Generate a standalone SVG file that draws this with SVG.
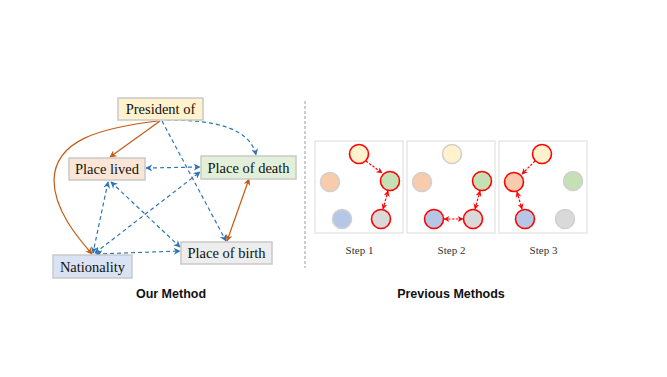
<svg xmlns="http://www.w3.org/2000/svg" width="667" height="377" viewBox="0 0 667 377">
<defs>
<style>
.box{stroke:#c9c9c9;stroke-width:1.5}
.nt{font-family:"Liberation Serif",serif;font-size:14.5px;fill:#111;text-anchor:middle}
.or{fill:none;stroke:#c55a11;stroke-width:1.2}
.bl{fill:none;stroke:#2e75b6;stroke-width:1.2;stroke-dasharray:4,3}
.rd{fill:none;stroke:#ff0000;stroke-width:1.2;stroke-dasharray:2.5,1.5}
.panel{fill:#fff;stroke:#dcdcdc;stroke-width:1}
.on{stroke:#ff0000;stroke-width:1.6}
.off{stroke:#d0d0d0;stroke-width:1.6}
.st{font-family:"Liberation Serif",serif;font-size:11px;fill:#333;text-anchor:middle}
.lb{font-family:"Liberation Sans",Arial,sans-serif;font-size:12.5px;font-weight:bold;fill:#111;text-anchor:middle}
</style>
<marker id="ao" viewBox="0 0 10 10" refX="9" refY="5" markerWidth="7" markerHeight="7" orient="auto-start-reverse" markerUnits="userSpaceOnUse"><path d="M0,0 L10,5 L0,10 L3,5 Z" fill="#c55a11"/></marker>
<marker id="ab" viewBox="0 0 10 10" refX="9" refY="5" markerWidth="7" markerHeight="7" orient="auto-start-reverse" markerUnits="userSpaceOnUse"><path d="M0,0 L10,5 L0,10 L3,5 Z" fill="#2e75b6"/></marker>
<marker id="ar" viewBox="0 0 10 10" refX="9" refY="5" markerWidth="6" markerHeight="6" orient="auto-start-reverse" markerUnits="userSpaceOnUse"><path d="M0,0 L10,5 L0,10 L3,5 Z" fill="#ff0000"/></marker>
</defs>
<rect width="667" height="377" fill="#fff"/>

<g id="connectors">
<path class="or" d="M160,121 L110,157" marker-end="url(#ao)"/>
<path class="or" d="M158,121 C100,128 55,140 54,180 C54,210 78,238 92,254" marker-end="url(#ao)"/>
<path class="or" d="M249,179 L227,241" marker-start="url(#ao)" marker-end="url(#ao)"/>
<path class="bl" d="M162,121 L226,241" marker-end="url(#ab)"/>
<path class="bl" d="M167,120 C215,120 250,128 256,155" marker-end="url(#ab)"/>
<path class="bl" d="M146,168 L200,167" marker-start="url(#ab)" marker-end="url(#ab)"/>
<path class="bl" d="M108,182 L93,253" marker-start="url(#ab)" marker-end="url(#ab)"/>
<path class="bl" d="M111,182 L180,247" marker-start="url(#ab)" marker-end="url(#ab)"/>
<path class="bl" d="M95,253 L200,172" marker-start="url(#ab)" marker-end="url(#ab)"/>
<path class="bl" d="M96,254 L180,251" marker-start="url(#ab)" marker-end="url(#ab)"/>
</g>

<g id="president-of"><rect class="box" x="118" y="98" width="85" height="22" fill="#fff2cc"/><text class="nt" x="160.5" y="114">President of</text></g>
<g id="place-lived"><rect class="box" x="69" y="158" width="76" height="22" fill="#fbe5d6"/><text class="nt" x="107" y="174">Place lived</text></g>
<g id="place-of-death"><rect class="box" x="201" y="156" width="95" height="23" fill="#e2f0d9"/><text class="nt" x="248.5" y="172.5">Place of death</text></g>
<g id="nationality"><rect class="box" x="53" y="255" width="79" height="23" fill="#dae3f3"/><text class="nt" x="92.5" y="271.5">Nationality</text></g>
<g id="place-of-birth"><rect class="box" x="181" y="242" width="91" height="22" fill="#ededed"/><text class="nt" x="226.5" y="258">Place of birth</text></g>

<line x1="305" y1="101" x2="305" y2="268" stroke="#bfbfbf" stroke-width="1.5" stroke-dasharray="3,2"/>

<g id="step1">
<rect class="panel" x="315" y="141" width="88" height="92"/>
<circle class="off" cx="330" cy="182" r="9.5" fill="#f8cbad"/>
<circle class="off" cx="342" cy="219" r="9.5" fill="#b4c7e7"/>
<circle class="on" cx="359" cy="154" r="9.5" fill="#fff2cc"/>
<circle class="on" cx="390" cy="181" r="9.5" fill="#c5e0b4"/>
<circle class="on" cx="381" cy="219" r="9.5" fill="#d9d9d9"/>
<path class="rd" d="M366,161 L382,173" marker-end="url(#ar)"/>
<path class="rd" d="M388,191 L383,209" marker-start="url(#ar)" marker-end="url(#ar)"/>
<text class="st" x="359.5" y="254">Step 1</text>
</g>

<g id="step2">
<rect class="panel" x="407" y="141" width="88" height="92"/>
<circle class="off" cx="452" cy="154" r="9.5" fill="#fff2cc"/>
<circle class="off" cx="422" cy="182" r="9.5" fill="#f8cbad"/>
<circle class="on" cx="482" cy="181" r="9.5" fill="#c5e0b4"/>
<circle class="on" cx="434" cy="219" r="9.5" fill="#b4c7e7"/>
<circle class="on" cx="473" cy="219" r="9.5" fill="#d9d9d9"/>
<path class="rd" d="M480,191 L475,209" marker-start="url(#ar)" marker-end="url(#ar)"/>
<path class="rd" d="M444,219 L463,219" marker-start="url(#ar)" marker-end="url(#ar)"/>
<text class="st" x="451.5" y="254">Step 2</text>
</g>

<g id="step3">
<rect class="panel" x="499" y="141" width="88" height="92"/>
<circle class="off" cx="573" cy="181" r="9.5" fill="#c5e0b4"/>
<circle class="off" cx="565" cy="219" r="9.5" fill="#d9d9d9"/>
<circle class="on" cx="542" cy="154" r="9.5" fill="#fff2cc"/>
<circle class="on" cx="514" cy="182" r="9.5" fill="#f8cbad"/>
<circle class="on" cx="525" cy="219" r="9.5" fill="#b4c7e7"/>
<path class="rd" d="M535,161 L522,174" marker-end="url(#ar)"/>
<path class="rd" d="M517,192 L522,209" marker-start="url(#ar)" marker-end="url(#ar)"/>
<text class="st" x="543.5" y="254">Step 3</text>
</g>

<text class="lb" x="171" y="298">Our Method</text>
<text class="lb" x="451" y="298">Previous Methods</text>
</svg>
